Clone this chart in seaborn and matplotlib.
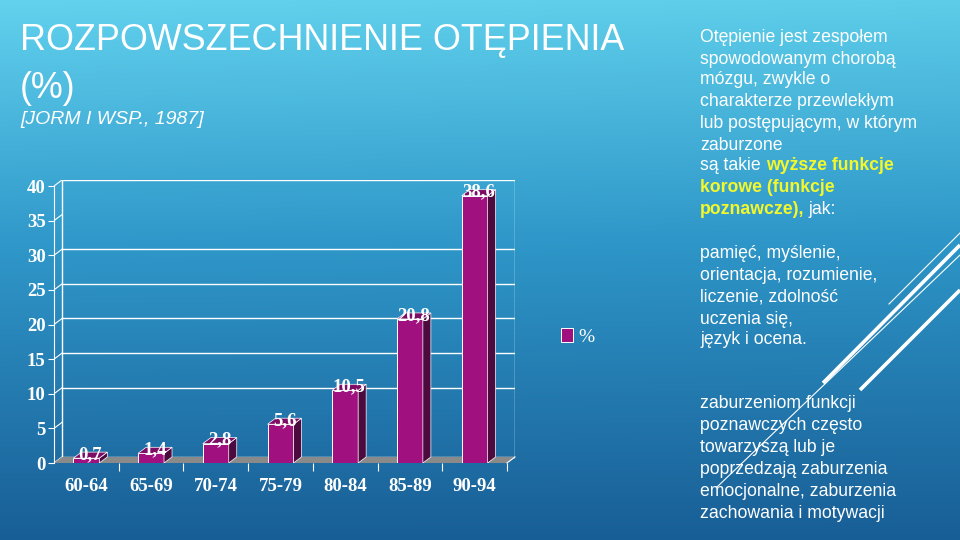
import numpy as np
import pandas as pd
import seaborn as sns
import matplotlib.pyplot as plt
from matplotlib.patches import Polygon, Rectangle

# data
age_groups = ['60-64', '65-69', '70-74', '75-79', '80-84', '85-89', '90-94']
prevalence = [0.7, 1.4, 2.8, 5.6, 10.5, 20.8, 38.6]
value_labels = ['0,7', '1,4', '2,8', '5,6', '10,5', '20,8', '38,6']
y_ticks = [0, 5, 10, 15, 20, 25, 30, 35, 40]
grid_levels = [10, 15, 20, 25, 30]

front = '#a0107f'
side = '#4c0a3f'
top = '#7d0d64'
floor_col = '#8a8a8a'
yellow = '#f4f82a'

# fake 3d depth (data units)
ddx = 0.124
ddy = 0.87

serif = 'Liberation Serif'
sans = 'Liberation Sans'


def background(fig):
    bg = fig.add_axes([0, 0, 1, 1])
    t = np.linspace(0, 1, 540)[:, None]
    s = np.linspace(0, 1, 960)[None, :]
    stops_t = [0.0, 0.45, 1.0]
    cols = np.array([[98, 210, 238], [48, 152, 202], [24, 94, 150]]) / 255
    img = np.zeros((540, 960, 3))
    for c in range(3):
        img[:, :, c] = np.interp(t[:, 0], stops_t, cols[:, c])[:, None] - 0.02 * s * (1 - t)
    bg.imshow(np.clip(img, 0, 1), extent=[0, 960, 540, 0], aspect='auto')
    bg.set_xlim(0, 960)
    bg.set_ylim(540, 0)
    bg.axis('off')

    # decorative diagonal strokes
    bg.plot([960, 889], [233, 304], color='white', lw=0.8)
    bg.plot([960, 823], [245, 383], color='white', lw=2.6, solid_capstyle='butt')
    bg.plot([960, 717], [255, 487], color='white', lw=0.8)
    bg.plot([960, 860], [290, 390], color='white', lw=2.6, solid_capstyle='butt')
    return bg


def right_text(fig):
    def put(x, y, s, **kw):
        kw.setdefault('color', 'white')
        return fig.text(x / 960, 1 - y / 540, s, ha='left', va='center',
                        fontfamily=sans, fontsize=12.7, **kw)

    block1 = ['Otępienie jest zespołem', 'spowodowanym chorobą', 'mózgu, zwykle o',
              'charakterze przewlekłym', 'lub postępującym, w którym', 'zaburzone']
    ys1 = [38, 59, 80, 102, 123, 145]
    for s, y in zip(block1, ys1):
        put(700, y, s)
    put(700, 166, 'są takie')
    put(766, 166, 'wyższe funkcje', color=yellow, fontweight='bold')
    put(700, 188, 'korowe (funkcje', color=yellow, fontweight='bold')
    put(700, 210, 'poznawcze),', color=yellow, fontweight='bold')
    put(808, 210, 'jak:')

    block2 = ['pamięć, myślenie,', 'orientacja, rozumienie,', 'liczenie, zdolność',
              'uczenia się,', 'język i ocena.']
    for s, y in zip(block2, [254, 275, 297, 319, 340]):
        put(700, y, s)

    block3 = ['zaburzeniom funkcji', 'poznawczych często', 'towarzyszą lub je',
              'poprzedzają zaburzenia', 'emocjonalne, zaburzenia',
              'zachowania i motywacji']
    for s, y in zip(block3, [404, 426, 447, 469, 491, 513]):
        put(700, y, s)


def main():
    fig = plt.figure(figsize=(9.6, 5.4), dpi=100)
    background(fig)

    fig.text(20 / 960, 1 - 40 / 540, 'ROZPOWSZECHNIENIE OTĘPIENIA', color='white',
             fontfamily=sans, fontsize=25.8, ha='left', va='center')
    fig.text(20 / 960, 1 - 88 / 540, '(%)', color='white',
             fontfamily=sans, fontsize=25.8, ha='left', va='center')
    fig.text(20 / 960, 1 - 120 / 540, '[JORM I WSP., 1987]', color='white',
             fontfamily=sans, fontsize=14, style='italic', ha='left', va='center')
    right_text(fig)

    ax = fig.add_axes([54 / 960, 77 / 540, 461 / 960, 283 / 540])
    ax.set_facecolor('none')

    df = pd.DataFrame({'wiek': age_groups, 'proc': prevalence})
    sns.barplot(data=df, x='wiek', y='proc', color=front, saturation=1, width=0.4,
                edgecolor='white', linewidth=0.7, label='%', ax=ax, zorder=2)
    bars = list(ax.patches)

    xmin, xmax = -0.5, len(age_groups) - 0.5
    ax.set_xlim(xmin, xmax + ddx)
    ax.set_ylim(0, 40 + ddy)

    # back wall, grid and side wall
    ax.add_patch(Rectangle((xmin + ddx, ddy), xmax - xmin, 40, fill=False,
                           edgecolor='white', lw=1, zorder=0.5))
    for g in grid_levels:
        ax.plot([xmin + ddx, xmax + ddx], [g + ddy, g + ddy], color='white', lw=1, zorder=0.5)
    for t in y_ticks:
        ax.plot([xmin, xmin + ddx], [t, t + ddy], color='white', lw=0.8, zorder=0.5)
    ax.add_patch(Polygon([(xmin, 0), (xmax, 0), (xmax + ddx, ddy), (xmin + ddx, ddy)],
                         closed=True, facecolor=floor_col, edgecolor='none', zorder=0.6))
    ax.plot([xmax, xmax + ddx], [0, ddy], color='white', lw=0.8, zorder=0.7, clip_on=False)

    for p, lab in zip(bars, value_labels):
        x0, w, h = p.get_x(), p.get_width(), p.get_height()
        ax.add_patch(Polygon([(x0 + w, 0), (x0 + w, h), (x0 + w + ddx, h + ddy), (x0 + w + ddx, ddy)],
                             closed=True, facecolor=side, edgecolor='white', lw=0.5, zorder=2))
        ax.add_patch(Polygon([(x0, h), (x0 + w, h), (x0 + w + ddx, h + ddy), (x0 + ddx, h + ddy)],
                             closed=True, facecolor=top, edgecolor='white', lw=0.5, zorder=2))
        ax.text(x0 + w / 2 + ddx / 2, h + ddy * 0.6, lab, ha='center', va='center',
                color='white', fontfamily=serif, fontweight='bold', fontsize=13.5,
                zorder=5, clip_on=False)

    for s in ['top', 'right', 'bottom']:
        ax.spines[s].set_visible(False)
    ax.spines['left'].set_color('white')
    ax.spines['left'].set_bounds(0, 40)
    ax.set_yticks(y_ticks)
    ax.set_yticklabels([str(v) for v in y_ticks], fontfamily=serif, fontweight='bold',
                       fontsize=13.5, color='white')
    ax.tick_params(axis='y', colors='white', length=4, width=0.8, pad=2)
    ax.set_xticks(range(len(age_groups)))
    ax.set_xticklabels(age_groups, fontfamily=serif, fontweight='bold',
                       fontsize=13.5, color='white')
    ax.tick_params(axis='x', length=0, pad=11)
    ax.set_xticks(np.arange(xmin + 1, xmax + 1), minor=True)
    ax.tick_params(axis='x', which='minor', length=6, width=0.8, color='white')
    ax.set_xlabel('')
    ax.set_ylabel('')
    ax.grid(False)

    leg = ax.legend(loc='center left', bbox_to_anchor=(561 / 960, 1 - 337 / 540),
                    bbox_transform=fig.transFigure, frameon=False,
                    prop={'family': serif, 'size': 14}, handlelength=0.6,
                    handleheight=0.7, handletextpad=0.3, borderpad=0,
                    borderaxespad=0)
    for txt in leg.get_texts():
        txt.set_color('white')

    fig.savefig('out.png', dpi=100)


if __name__ == "__main__":
    main()
